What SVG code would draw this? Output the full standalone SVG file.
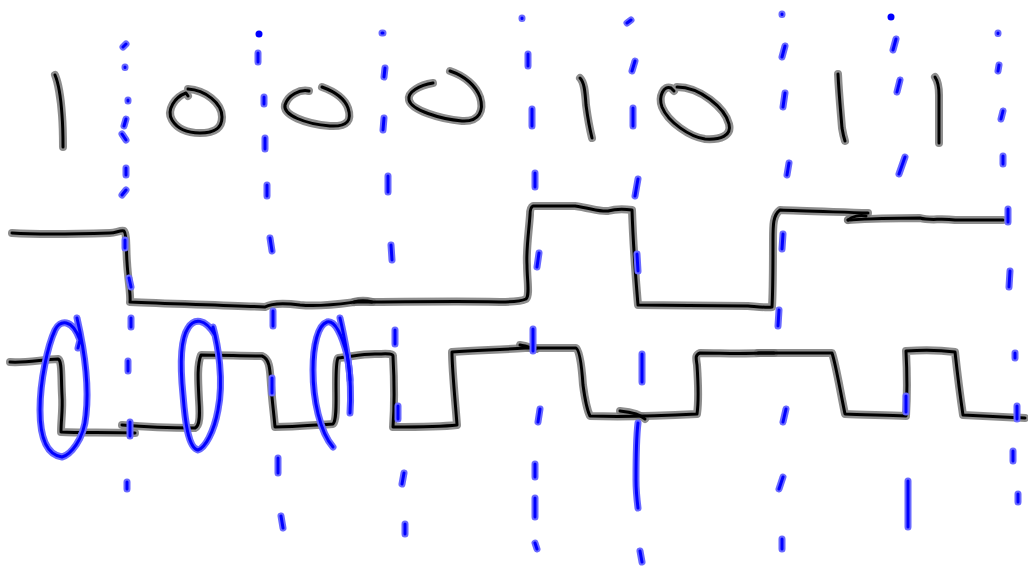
<svg xmlns="http://www.w3.org/2000/svg" xmlns:xlink="http://www.w3.org/1999/xlink" width="1028" height="570" viewBox="0 0 1028 570">
<style>
.kh{fill:none;stroke:#7a7a7a;stroke-opacity:0.85;stroke-width:8;stroke-linecap:round;stroke-linejoin:round}
.k{fill:none;stroke:#000;stroke-width:3;stroke-linecap:round;stroke-linejoin:round}
.bh{fill:none;stroke:#6a6aff;stroke-width:7;stroke-linecap:round;stroke-linejoin:round}
.b{fill:none;stroke:#0000ff;stroke-width:3;stroke-linecap:round;stroke-linejoin:round}
.dot{fill:#0000ff}
</style>
<defs>
<g id="digits">
<path d="M55,75 C58,82 61,100 62,115 C63,128 63,138 63,147"/>
<path d="M188,89 C205,90 222,103 222,117 C222,130 212,133 200,133 C188,133 178,130 172,120 C166,110 175,97 186,93 L188,96"/>
<path d="M309,91 C300,89 288,95 285,105 C283,115 305,124 330,126 C348,127 352,120 348,108 C344,97 333,91 322,87"/>
<path d="M433,83 C420,85 407,92 409,100 C411,110 440,119 462,121 C480,122 484,110 480,97 C476,86 465,76 450,71"/>
<path d="M580,78 C584,82 585,90 586,105 C588,120 590,130 592,138"/>
<path d="M677,87 C700,87 725,108 729,124 C732,136 720,140 705,139 C690,137 668,122 662,107 C658,96 664,85 671,88 L674,91"/>
<path d="M838,74 C839,95 841,115 842,128 C843,134 844,138 845,141"/>
<path d="M935,77 C937,80 939,86 939,95 C939,115 939,130 939,143"/>
</g>
<g id="waves">
<path d="M12,233 C40,235 80,234 110,233 C116,233 120,230 124,231 C127,234 126,250 127,262 C128,280 131,295 130,302 C170,304 230,305 265,307 C272,303 285,303 300,305 C320,307 340,304 355,302 C400,302 470,301 500,302 C512,302 522,301 526,299 C530,295 527,280 527,265 C526,250 529,230 530,215 C530,209 531,207 533,206 C545,206 560,206 575,206 C590,208 600,212 608,211 C615,209 625,209 632,210 C633,240 635,270 638,305 C670,305 720,306 748,306 C760,307 768,308 772,307 C773,290 773,260 773,240 C773,225 773,215 780,210 C800,211 840,212 868,213"/>
<path d="M354,302 C362,300 368,301 372,302"/>
<path d="M848,220 C852,216 860,215 866,216"/>
<path d="M848,220 C880,218 910,218 920,218 C930,221 940,218 955,220 C970,220 990,220 1003,220"/>
<path d="M10,362 C25,363 40,360 58,359 C62,360 61,375 62,395 C63,410 61,420 61,432 C80,433 110,432 135,433"/>
<path d="M122,425 C145,427 170,428 195,428 C200,426 200,415 199,400 C198,380 197,365 201,355 C220,355 245,356 262,356 C270,359 270,370 271,385 C272,400 274,415 275,427 C295,427 315,425 333,424 C337,420 336,400 336,385 C336,370 336,362 338,358 C350,357 360,354 375,354 C385,354 393,353 393,356 C394,375 395,400 393,427 C410,427 440,427 457,425 C456,410 452,370 452,352 C480,350 500,350 525,348 C540,348 560,348 576,348 C580,350 582,370 583,385 C585,400 587,410 590,416 C620,417 660,416 697,414 C699,400 698,380 697,365 C696,358 695,355 700,353 C720,353 740,354 760,353 C790,353 815,353 832,353 C836,365 840,390 845,414 C860,415 885,415 906,416 C907,400 907,370 906,351 C920,350 940,350 955,352 C957,370 960,395 963,415 C985,416 1005,417 1025,418"/>
<path d="M520,345 C526,346 532,348 536,349"/>
<path d="M620,411 C630,412 640,414 645,419"/>
<path d="M758,353 L774,353"/>
</g>
<g id="blue">
<path d="M77,318 C82,340 90,380 86,415 C84,440 70,455 62,457 C48,455 40,440 40,410 C40,380 48,345 55,330 C60,320 72,318 80,340 L78,348"/>
<path d="M213,327 C218,345 224,380 218,410 C214,432 205,448 198,450 C188,448 185,420 183,395 C180,365 180,340 188,328 C194,318 205,318 215,335"/>
<path d="M333,447 C320,432 313,400 313,370 C313,345 318,325 327,322 C335,320 342,335 347,355 C351,375 351,400 350,413"/>
<path d="M340,318 C345,340 349,360 350,380"/>
<path d="M126,44 l-3,3 M125,67 l0,0.5 M128,100 l0,1 M126,119 l-2,7 M122,134 l4,6 M126,168 l0,7 M126,190 l-4,5 M125,240 l0,8 M129,278 l2,9 M131,318 l0,9 M128,361 l0,10 M130,422 l0,14 M127,482 l0,7"/>
<path d="M258,53 l0,9 M264,97 l0,7 M265,138 l0,11 M267,185 l0,11 M270,238 l2,13 M273,311 l0,15 M272,378 l0,15 M278,458 l0,15 M281,516 l2,12"/>
<path d="M382,33 l1,0 M385,68 l-1,9 M384,118 l-1,12 M388,176 l0,16 M391,245 l1,15 M395,330 l0,14 M398,406 l0,13 M404,473 l-2,11 M405,524 l0,10"/>
<path d="M522,18 l0,0.5 M528,54 l0,12 M532,109 l0,17 M535,173 l0,14 M539,253 l-2,14 M533,329 l0,22 M540,409 l-2,13 M535,464 l0,13 M535,498 l0,19 M535,543 l2,6"/>
<path d="M631,20 l-4,3 M635,61 l-3,10 M633,108 l0,18 M638,179 l-3,17 M637,254 l1,17 M642,354 l0,28 M638,423 C636,440 636,460 636,480 C636,492 637,500 638,508 M640,551 l2,11"/>
<path d="M782,14 l0,0.5 M785,46 l-3,11 M785,93 l-2,14 M789,163 l-2,12 M783,234 l-1,15 M779,310 l-1,16 M786,409 l-3,13 M783,477 l-4,12 M782,539 l0,10"/>
<path d="M896,39 l-3,11 M900,80 l-3,12 M905,157 l-6,17 M906,396 l0,16 M908,481 l0,46"/>
<path d="M998,33 l0,0.5 M999,65 l-1,6 M1003,111 l-2,8 M1003,156 l0,8 M1008,209 l0,13 M1010,271 l-1,16 M1015,353 l0,5 M1017,406 l0,13 M1013,451 l0,10 M1018,494 l0,8"/>
</g>
</defs>
<rect width="1028" height="570" fill="#fff"/>
<g id="digit-strokes">
<use href="#digits" class="kh"/>
<use href="#digits" class="k"/>
</g>
<g id="waveforms">
<use href="#waves" class="kh"/>
<use href="#waves" class="k"/>
</g>
<g id="blue-marks">
<use href="#blue" class="bh"/>
<use href="#blue" class="b"/>
<circle class="dot" cx="259" cy="34" r="3.5"/>
<circle class="dot" cx="891" cy="17" r="3.5"/>
</g>
</svg>
